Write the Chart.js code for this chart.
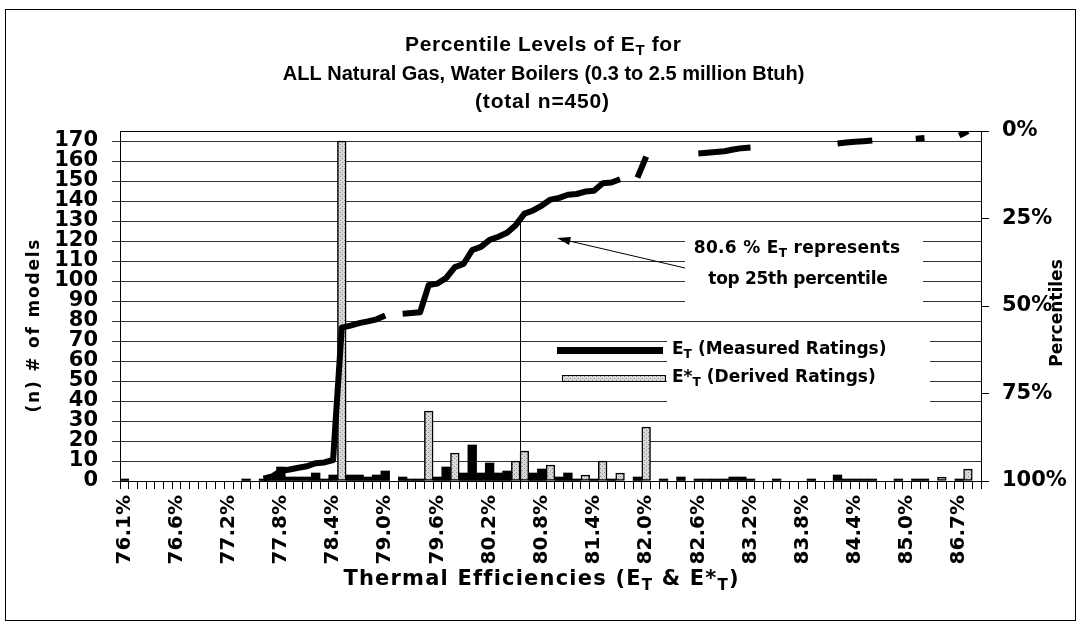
<!DOCTYPE html>
<html>
<head>
<meta charset="utf-8">
<script src="https://cdn.jsdelivr.net/npm/chart.js@4.4.1/dist/chart.umd.min.js"></script>
<style>
body{margin:0;background:#fff}
#wrap{width:1081px;height:625px;position:relative}
</style>
</head>
<body>
<div id="wrap"><canvas id="chart"></canvas></div>
<script>
// 99 efficiency bins, one label every 6th bin
var tickLabels = ['76.1%','76.6%','77.2%','77.8%','78.4%','79.0%','79.6%','80.2%','80.8%',
                  '81.4%','82.0%','82.6%','83.2%','83.8%','84.4%','85.0%','86.7%'];
var categories = [];
for (var i = 0; i < 99; i++) categories.push(i % 6 === 0 ? tickLabels[i / 6] : '');

// number of models per bin, E_T (measured ratings)
var measured = [
  1,null,null,null,null,null,null,null,null,null,
  null,null,null,null,1,null,1,3,7,2,
  2,2,4,1,3,null,3,3,2,3,
  5,null,2,1,1,null,2,7,null,4,
  18,4,9,4,5,null,null,4,6,null,
  2,4,1,null,1,null,1,null,null,2,
  null,null,1,null,2,null,1,1,1,1,
  2,2,1,null,null,1,null,null,null,1,
  null,null,3,1,1,1,1,null,null,1,
  null,1,1,null,null,null,1,null,null
];
// number of models per bin, E*_T (derived ratings)
var derived = [
  null,null,null,null,null,null,null,null,null,null,
  null,null,null,null,null,null,null,null,null,null,
  null,null,null,null,null,170,null,null,null,null,
  null,null,null,null,null,35,null,null,14,null,
  null,null,null,null,null,10,15,null,null,8,
  null,null,null,3,null,10,null,4,null,null,
  27,null,null,null,null,null,null,null,null,null,
  null,null,null,null,null,null,null,null,null,null,
  null,null,null,null,null,null,null,null,null,null,
  null,null,null,null,2,null,null,6,null
];
// percentile level (right axis, 0% at top)
var percentile = [
  99.8,null,null,null,null,null,null,null,null,null,
  null,null,null,null,99.6,null,99.3,98.7,97.1,96.7,
  96.2,95.8,94.9,94.7,94.0,56.2,55.6,54.9,54.4,53.8,
  52.7,null,52.2,52.0,51.8,44.0,43.6,42.0,38.9,38.0,
  34.0,33.1,31.1,30.2,29.1,26.9,23.6,22.7,21.3,19.6,
  19.1,18.2,18.0,17.3,17.1,14.9,14.7,13.8,null,13.3,
  7.3,null,7.1,null,6.7,null,6.4,6.2,6.0,5.8,
  5.3,4.9,4.7,null,null,4.4,null,null,null,4.2,
  null,null,3.6,3.3,3.1,2.9,2.7,null,null,2.4,
  null,2.2,2.0,null,1.6,null,1.3,0.0,null
];
var markBin = 45.5;   // 80.6 %
var markPct = 25;

var TXT = '"Liberation Sans", Arial, sans-serif';
var NUM = '"DejaVu Sans", sans-serif';

// dotted grey fill used by excel for the derived bars
var pc = document.createElement('canvas');
pc.width = 4; pc.height = 4;
var p = pc.getContext('2d');
p.fillStyle = '#d8d8d8'; p.fillRect(0, 0, 4, 4);
p.fillStyle = '#8a8a8a'; p.fillRect(0, 0, 1, 1); p.fillRect(2, 2, 1, 1);
var ctxMain = document.getElementById('chart').getContext('2d');
var greyFill = ctxMain.createPattern(pc, 'repeat');

// text with subscripts, drawn char by char so spacing can be widened
function rich(ctx, parts, x, y, size, align, fam, sp) {
  fam = fam || TXT; sp = sp || 0;
  function fnt(q) { return 'bold ' + (q[1] ? size * 0.72 : size) + 'px ' + fam; }
  var w = 0;
  parts.forEach(function (q) {
    ctx.font = fnt(q);
    for (var k = 0; k < q[0].length; k++) w += ctx.measureText(q[0][k]).width + sp;
  });
  w -= sp;
  var cx = align === 'center' ? x - w / 2 : x;
  ctx.textAlign = 'left';
  ctx.textBaseline = 'middle';
  parts.forEach(function (q) {
    ctx.font = fnt(q);
    if (!sp) { ctx.fillText(q[0], cx, q[1] ? y + size * 0.3 : y); cx += ctx.measureText(q[0]).width; return; }
    for (var k = 0; k < q[0].length; k++) {
      ctx.fillText(q[0][k], cx, q[1] ? y + size * 0.3 : y);
      cx += ctx.measureText(q[0][k]).width + sp;
    }
  });
}

var decor = {
  id: 'decor',
  beforeDraw: function (chart) {
    var c = chart.ctx;
    c.save();
    c.fillStyle = '#fff';
    c.fillRect(0, 0, chart.width, chart.height);
    c.strokeStyle = '#000';
    c.lineWidth = 1;
    c.strokeRect(5.5, 9.5, 1070, 611);
    c.restore();
  },
  beforeDatasetsDraw: function (chart) {
    var c = chart.ctx;
    c.save();
    c.fillStyle = '#fff';
    c.fillRect(685, 230, 238, 80);   // note box
    c.fillRect(667, 331, 263, 78);   // legend text box
    c.restore();
  },
  afterDatasetsDraw: function (chart) {
    var c = chart.ctx, a = chart.chartArea;
    var xs = chart.scales.x, ys = chart.scales.y2;
    c.save();
    c.strokeStyle = '#000';
    c.lineWidth = 1;
    c.strokeRect(a.left + 0.5, a.top + 0.5, a.right - a.left, a.bottom - a.top);

    // 25th percentile marker
    var mx = Math.round(xs.getPixelForValue(markBin)) + 0.5;
    c.beginPath();
    c.moveTo(mx, ys.getPixelForValue(markPct));
    c.lineTo(mx, a.bottom);
    c.stroke();

    // arrow
    var x0 = 685, y0 = 268, x1 = 557, y1 = 238;
    c.beginPath(); c.moveTo(x0, y0); c.lineTo(x1 + 8, y1 + 2); c.stroke();
    var ang = Math.atan2(y1 - y0, x1 - x0);
    c.beginPath();
    c.moveTo(x1, y1);
    c.lineTo(x1 - 14 * Math.cos(ang - 0.3), y1 - 14 * Math.sin(ang - 0.3));
    c.lineTo(x1 - 14 * Math.cos(ang + 0.3), y1 - 14 * Math.sin(ang + 0.3));
    c.closePath();
    c.fillStyle = '#000';
    c.fill();

    c.fillStyle = '#000';
    rich(c, [['80.6 % E'], ['T', 1], [' represents']], 797, 249, 17, 'center', NUM, 0.3);
    rich(c, [['top 25th percentile']], 798, 280, 17, 'center', NUM, -0.3);

    // legend
    c.fillStyle = '#000';
    c.fillRect(557, 347, 106, 7);
    c.fillStyle = greyFill;
    c.fillRect(562, 375, 104, 7);
    c.strokeRect(562.5, 375.5, 103, 6);
    c.fillStyle = '#000';
    rich(c, [['E'], ['T', 1], [' (Measured Ratings)']], 672, 350, 17, 'left', NUM);
    rich(c, [['E*'], ['T', 1], [' (Derived Ratings)']], 672, 378, 17, 'left', NUM);

    // titles
    rich(c, [['Percentile Levels of E'], ['T', 1], [' for']], 543, 45, 21, 'center', TXT, 0.6);
    rich(c, [['ALL Natural Gas, Water Boilers (0.3 to 2.5 million Btuh)']], 544, 74, 20, 'center');
    rich(c, [['(total n=450)']], 542, 102, 21, 'center', TXT, 0.8);
    rich(c, [['Thermal Efficiencies (E'], ['T', 1], [' & E*'], ['T', 1], [')']], 541, 580, 21, 'center', NUM, 1.2);

    c.save();
    c.translate(35, 326);
    c.rotate(-Math.PI / 2);
    rich(c, [['(n) # of models']], 0, 0, 17, 'center', NUM, 1.8);
    c.restore();
    c.save();
    c.translate(1058, 313);
    c.rotate(-Math.PI / 2);
    rich(c, [['Percentiles']], 0, 0, 17, 'center', NUM);
    c.restore();
    c.restore();
  }
};

new Chart(ctxMain, {
  data: {
    labels: categories,
    datasets: [
      { type: 'line', label: 'Percentile', data: percentile, yAxisID: 'y2', order: 0,
        borderColor: '#000', borderWidth: 6, pointRadius: 0, spanGaps: false, tension: 0,
        borderCapStyle: 'butt', borderJoinStyle: 'round' },
      { type: 'bar', label: 'E*T (Derived Ratings)', data: derived, yAxisID: 'y', order: 1,
        backgroundColor: greyFill, borderColor: '#000', borderWidth: 1.5, borderSkipped: false,
        barPercentage: 1, categoryPercentage: 1, grouped: false },
      { type: 'bar', label: 'ET (Measured Ratings)', data: measured, yAxisID: 'y', order: 2,
        backgroundColor: '#000', borderWidth: 0,
        barPercentage: 1, categoryPercentage: 1, grouped: false }
    ]
  },
  options: {
    responsive: true,
    maintainAspectRatio: false,
    animation: false,
    layout: { padding: { top: 131, left: 0, right: 0, bottom: 0 } },
    plugins: { legend: { display: false }, tooltip: { enabled: false }, title: { display: false } },
    scales: {
      x: {
        type: 'category',
        grid: { offset: true, drawOnChartArea: false, color: '#000', tickLength: 8 },
        border: { color: '#000' },
        ticks: { autoSkip: false, maxRotation: 90, minRotation: 90, color: '#000', padding: 6,
          font: { family: NUM, size: 20, weight: 'bold' } },
        afterFit: function (s) { s.height = 144; }
      },
      y: {
        position: 'left', min: 0, max: 175,
        grid: { color: '#333', tickLength: 8 },
        border: { color: '#000' },
        ticks: { stepSize: 10, includeBounds: false, autoSkip: false, color: '#000', padding: 14,
          font: { family: NUM, size: 21, weight: 'bold' } },
        afterFit: function (s) { s.width = 120; }
      },
      y2: {
        position: 'right', min: 0, max: 100, reverse: true,
        grid: { drawOnChartArea: false, color: '#000', tickLength: 8 },
        border: { color: '#000' },
        ticks: { stepSize: 25, color: '#000', padding: 13,
          font: { family: NUM, size: 21, weight: 'bold' },
          callback: function (v) { return v + '%'; } },
        afterFit: function (s) { s.width = 100; }
      }
    }
  },
  plugins: [decor]
});
</script>
</body>
</html>
